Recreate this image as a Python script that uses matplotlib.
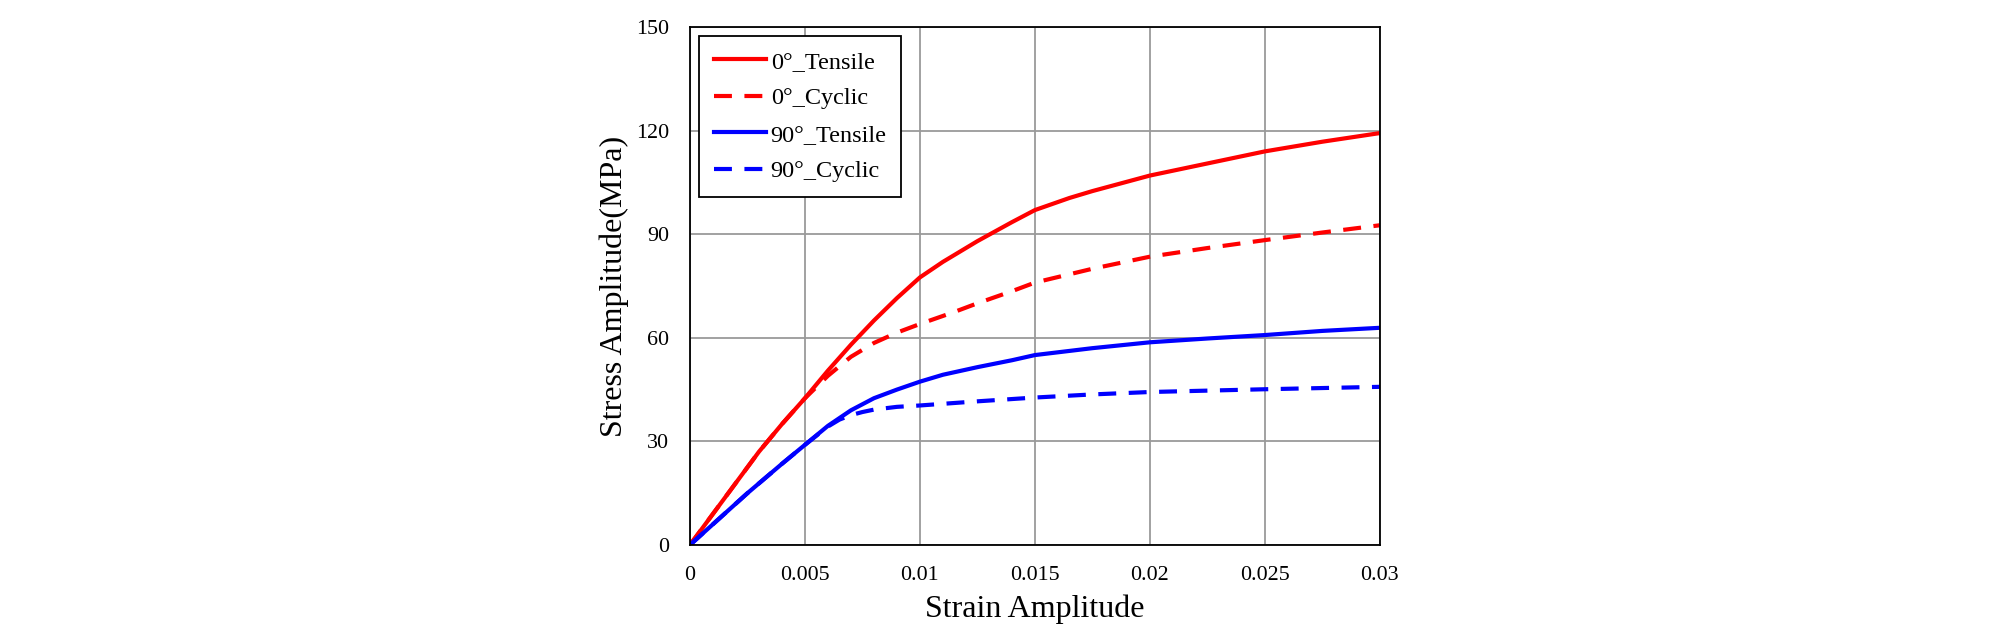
import matplotlib
matplotlib.use('Agg')
import matplotlib.pyplot as plt

# strain amplitude / stress amplitude (MPa)
strain_0_tensile = [0, 0.001, 0.002, 0.003, 0.004, 0.005, 0.006, 0.007, 0.008, 0.009, 0.01,
                    0.011, 0.0125, 0.014, 0.015, 0.0165, 0.0175, 0.019, 0.02, 0.0225,
                    0.025, 0.0275, 0.03]
stress_0_tensile = [0, 9, 18, 27, 35, 42.5, 50.5, 58, 65, 71.5, 77.5,
                    82, 88, 93.5, 97, 100.5, 102.5, 105.2, 107, 110.5,
                    114, 116.8, 119.3]

strain_0_cyclic = [0, 0.001, 0.002, 0.003, 0.004, 0.005, 0.006, 0.007, 0.008, 0.009, 0.01,
                   0.0115, 0.0125, 0.014, 0.015, 0.0175, 0.02, 0.0225, 0.025, 0.0275, 0.03]
stress_0_cyclic = [0, 9, 18, 27, 35, 42.5, 49, 54.5, 58.5, 61.5, 64,
                   67.5, 70, 73.5, 76, 80, 83.5, 86, 88.3, 90.5, 92.6]

strain_90_tensile = [0, 0.001, 0.0025, 0.004, 0.005, 0.006, 0.007, 0.008, 0.009, 0.01, 0.011,
                     0.0125, 0.014, 0.015, 0.0175, 0.02, 0.0225, 0.025, 0.0275, 0.03]
stress_90_tensile = [0, 6, 15, 23.5, 29, 34.5, 39, 42.5, 45, 47.3, 49.3,
                     51.5, 53.5, 55, 57, 58.7, 59.8, 60.8, 62, 62.9]

strain_90_cyclic = [0, 0.001, 0.0025, 0.004, 0.005, 0.006, 0.0065, 0.007, 0.0075, 0.008,
                    0.009, 0.01, 0.0125, 0.015, 0.0175, 0.02, 0.025, 0.03]
stress_90_cyclic = [0, 6, 15, 23.5, 29, 34.3, 36.3, 37.6, 38.5, 39.2,
                    40, 40.4, 41.6, 42.7, 43.6, 44.3, 45.1, 45.8]

x_ticks = [0, 0.005, 0.01, 0.015, 0.02, 0.025, 0.03]
x_tick_labels = ['0', '0.005', '0.01', '0.015', '0.02', '0.025', '0.03']
y_ticks = [0, 30, 60, 90, 120, 150]

plt.rcParams['font.family'] = ['Liberation Serif', 'DejaVu Serif']

fig = plt.figure(figsize=(20.08, 6.3), dpi=100)
ax = fig.add_axes([0.3436, 0.135, 0.3436, 0.822])

dash = (0, (4.3, 3.0))
lw = 3.0
ax.plot(strain_0_tensile, stress_0_tensile, color='#ff0000', lw=lw, label='0°_Tensile')
ax.plot(strain_0_cyclic, stress_0_cyclic, color='#ff0000', lw=lw, ls=dash, label='0°_Cyclic')
ax.plot(strain_90_tensile, stress_90_tensile, color='#0000ff', lw=lw, label='90°_Tensile')
ax.plot(strain_90_cyclic, stress_90_cyclic, color='#0000ff', lw=lw, ls=dash, label='90°_Cyclic')

ax.set_xlim(0, 0.03)
ax.set_ylim(0, 150)
ax.set_xticks(x_ticks)
ax.set_xticklabels(x_tick_labels)
ax.set_yticks(y_ticks)
ax.grid(True, color='#9a9a9a', lw=1.3)
ax.set_axisbelow(True)
ax.tick_params(labelsize=15.8, length=0, colors='black')
ax.tick_params(axis='y', pad=15)
ax.tick_params(axis='x', pad=15)
for sp in ax.spines.values():
    sp.set_color('black')
    sp.set_linewidth(1.3)

ax.set_xlabel('Strain Amplitude', fontsize=23, labelpad=7)
ax.set_ylabel('Stress Amplitude(MPa)', fontsize=23, labelpad=5)

leg = ax.legend(loc='upper left', fontsize=17.5, frameon=True, fancybox=False,
                edgecolor='black', framealpha=1, handlelength=2.15, labelspacing=0.6,
                borderpad=0.6, handletextpad=0.2, borderaxespad=0.37)
leg.get_frame().set_linewidth(1.3)

plt.savefig('out.png', dpi=100)
